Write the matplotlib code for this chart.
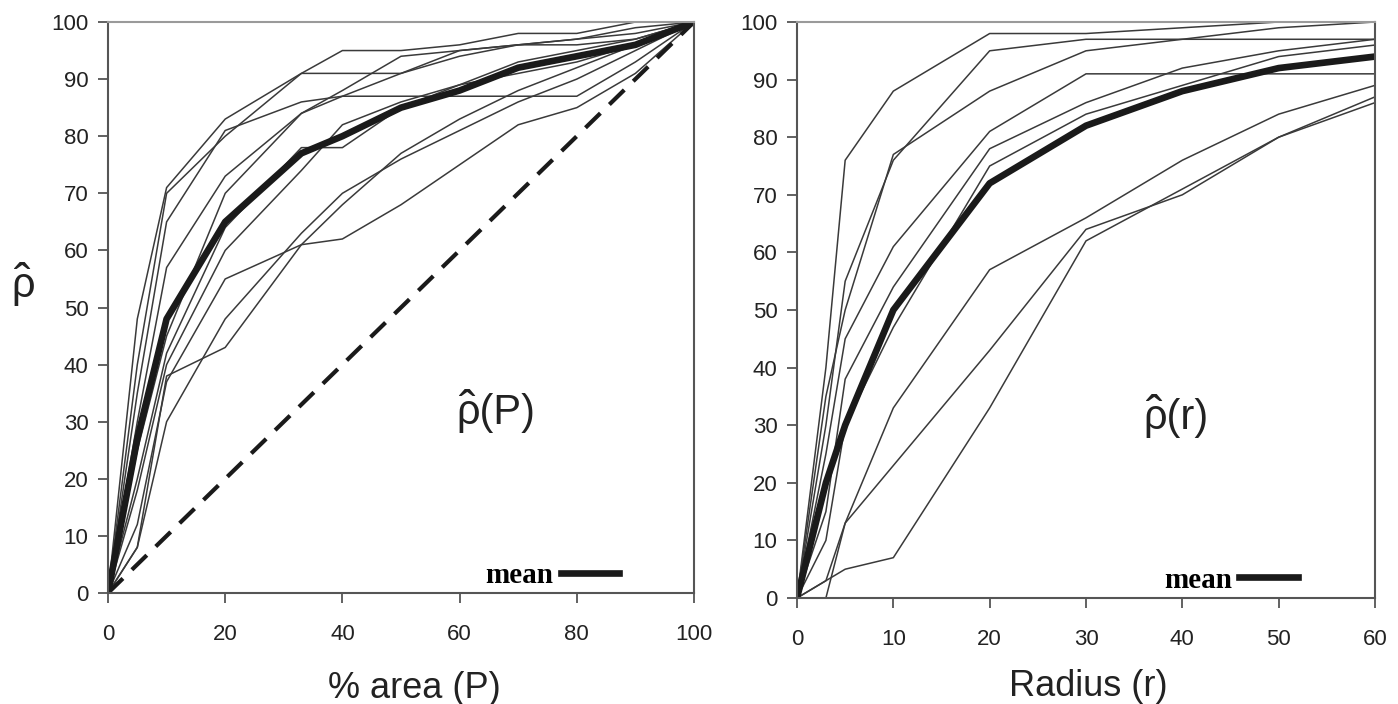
import matplotlib
matplotlib.use("Agg")
import matplotlib.pyplot as plt

plt.rcParams['font.family'] = ['Liberation Sans', 'DejaVu Sans']

# left panel: rho vs % area (P)
P = [0, 5, 10, 20, 33, 40, 50, 60, 70, 80, 90, 100]
rho_P = [
    [0, 48, 71, 83, 91, 95, 95, 96, 98, 98, 100, 100],
    [0, 40, 70, 80, 91, 91, 91, 95, 96, 96, 97, 100],
    [0, 35, 65, 81, 86, 87, 87, 87, 87, 87, 93, 100],
    [0, 30, 57, 73, 84, 88, 94, 95, 96, 97, 99, 100],
    [0, 25, 45, 70, 84, 87, 91, 94, 96, 97, 98, 100],
    [0, 20, 42, 64, 78, 78, 85, 89, 93, 95, 97, 100],
    [0, 18, 40, 60, 74, 82, 86, 89, 91, 93, 96, 100],
    [0, 12, 37, 55, 61, 68, 77, 83, 88, 92, 96, 100],
    [0, 8, 38, 43, 61, 62, 68, 75, 82, 85, 91, 100],
    [0, 8, 30, 48, 63, 70, 76, 81, 86, 90, 95, 100],
]
mean_P = [0, 27, 48, 65, 77, 80, 85, 88, 92, 94, 96, 100]
diag = [0, 100]

# right panel: rho vs radius (r)
R = [0, 3, 5, 10, 20, 30, 40, 50, 60]
rho_r = [
    [0, 40, 76, 88, 98, 98, 99, 100, 100],
    [0, 30, 55, 76, 95, 97, 97, 97, 97],
    [0, 35, 50, 77, 88, 95, 97, 99, 100],
    [0, 25, 45, 61, 81, 91, 91, 91, 91],
    [0, 15, 38, 54, 78, 86, 92, 95, 97],
    [0, 10, 30, 47, 75, 84, 89, 94, 96],
    [0, 3, 13, 33, 57, 66, 76, 84, 89],
    [0, 0, 13, 23, 43, 64, 70, 80, 87],
    [0, 3, 5, 7, 33, 62, 71, 80, 86],
]
mean_r = [0, 20, 30, 50, 72, 82, 88, 92, 94]

W, H = 1398, 704
INK = '#222222'
fig = plt.figure(figsize=(W / 100, H / 100), dpi=100)
ax1 = fig.add_axes([108 / W, 1 - 593 / H, 586 / W, 571 / H])
ax2 = fig.add_axes([797 / W, 1 - 598 / H, 578 / W, 576 / H])

thin = dict(color='#3a3a3a', lw=1.1)
for ys in rho_P:
    ax1.plot(P, ys, **thin)
ax1.plot(diag, diag, color='#1a1a1a', lw=3.0, ls=(0, (5, 3)))
m1, = ax1.plot(P, mean_P, color='#1a1a1a', lw=4.8, solid_joinstyle='round')

for ys in rho_r:
    ax2.plot(R, ys, **thin)
m2, = ax2.plot(R, mean_r, color='#1a1a1a', lw=4.8, solid_joinstyle='round')

leg_font = dict(family='Liberation Serif', weight='bold', size=21)
for ax, m, xa in ((ax1, m1, 0.872), (ax2, m2, 0.866)):
    ax.legend([m], ['mean'], loc='center right', bbox_to_anchor=(xa, 0.031),
              markerfirst=False, frameon=False, prop=leg_font,
              handlelength=2.0, handletextpad=0.25, borderpad=0, borderaxespad=0)

ax1.set_xlim(0, 100)
ax1.set_ylim(0, 100)
ax1.set_xticks(range(0, 101, 20))
ax2.set_xlim(0, 60)
ax2.set_ylim(0, 100)
ax2.set_xticks(range(0, 61, 10))
for ax in (ax1, ax2):
    ax.set_yticks(range(0, 101, 10))
    ax.tick_params(direction='out', length=7, width=1.3, color='#555555',
                   labelsize=16, labelcolor=INK)
    ax.tick_params(axis='x', pad=15)
    ax.tick_params(axis='y', pad=7)
    for side in ('left', 'bottom', 'right'):
        ax.spines[side].set_color('#555555')
        ax.spines[side].set_linewidth(1.5)
    ax.spines['top'].set_color('#9a9a9a')
    ax.spines['top'].set_linewidth(1.5)


def rho_hat(x, y, suffix, size):
    # rho with its own circumflex just above, x/y in figure pixels (baseline, left)
    fig.text(x / W, 1 - y / H, 'ρ' + suffix, fontsize=size, ha='left',
             va='baseline', color=INK)
    fig.text((x + 0.28 * size * 1.389) / W, 1 - (y + 1) / H, 'ˆ',
             fontsize=size * 1.2, ha='center', va='baseline', color=INK)


rho_hat(456, 424, '(P)', 30)
rho_hat(1143, 429, '(r)', 30)
rho_hat(11, 297, '', 30)

fig.text(414 / W, 1 - 688 / H, '% area (P)', fontsize=26, ha='center', va='center', color=INK)
fig.text(1088 / W, 1 - 686 / H, 'Radius (r)', fontsize=26, ha='center', va='center', color=INK)

fig.savefig('out.png', dpi=100)
